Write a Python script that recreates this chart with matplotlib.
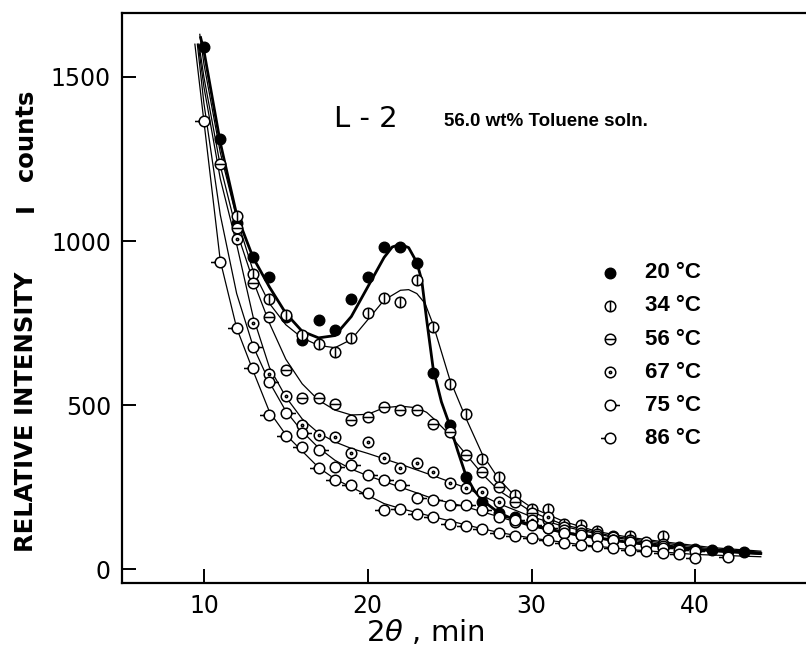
import numpy as np
import matplotlib
matplotlib.use("Agg")
import matplotlib.pyplot as plt
from matplotlib.path import Path

# measured points (2theta in min, counts)
x20 = list(range(10, 44))
y20 = [1590, 1310, 1056, 950, 889, 768, 699, 760, 729, 823, 892, 981, 983, 934, 599, 439,
       282, 205, 170, 160, 150, 125, 109, 104, 99, 101, 83, 81, 75, 68, 63, 58, 55, 51]

x34 = [12, 13, 14, 15, 16, 17, 18, 19, 20, 21, 22, 23, 24, 25, 26, 27, 28, 29, 30, 31, 32, 33, 34, 36, 38]
y34 = [1075, 900, 823, 775, 714, 685, 663, 706, 780, 826, 814, 882, 737, 563, 472, 335, 282, 226,
       185, 182, 139, 136, 116, 101, 101]

x56 = [11, 12, 13, 14, 15, 16, 17, 18, 19, 20, 21, 22, 23, 24, 25, 26, 27, 28, 29, 30, 31, 32, 33, 34, 35, 36, 37, 38]
y56 = [1235, 1040, 871, 768, 607, 521, 521, 502, 455, 465, 495, 485, 485, 442, 419, 348, 297,
       251, 205, 170, 150, 130, 120, 108, 98, 90, 82, 78]

x67 = [12, 13, 14, 15, 16, 17, 18, 19, 20, 21, 22, 23, 24, 25, 26, 27, 28, 29, 30, 31, 32, 33, 34, 35, 36, 38]
y67 = [1006, 750, 595, 528, 439, 409, 402, 355, 388, 338, 307, 324, 297, 263, 246, 236, 205,
       144, 150, 158, 120, 110, 100, 90, 82, 70]

x75 = [13, 14, 15, 16, 17, 18, 19, 20, 21, 22, 23, 24, 25, 26, 27, 28, 29, 30, 31, 32, 33, 34, 35, 36, 37, 38, 39, 40]
y75 = [678, 571, 477, 415, 363, 312, 317, 287, 271, 256, 216, 210, 195, 195, 180, 160, 150, 135,
       125, 110, 105, 95, 90, 82, 75, 65, 60, 55]

x86 = [10, 11, 12, 13, 14, 15, 16, 17, 18, 19, 20, 21, 22, 23, 24, 25, 26, 27, 28, 29, 30,
       31, 32, 33, 34, 35, 36, 37, 38, 39, 40, 42]
y86 = [1365, 936, 735, 612, 470, 406, 373, 307, 271, 256, 233, 180, 182, 168, 158, 139, 132,
       122, 109, 100, 95, 88, 80, 75, 70, 65, 60, 55, 50, 45, 33, 38]

# hand drawn smooth curves
c20x = [9.8, 10, 11, 12, 13, 14, 15, 16, 17, 18, 19, 20, 21, 21.5, 22, 22.5, 23, 23.3, 23.6, 24,
        24.5, 25, 25.5, 26, 26.5, 27, 28, 29, 30, 32, 35, 38, 41, 44]
c20y = [1620, 1580, 1300, 1080, 950, 860, 780, 725, 705, 712, 770, 860, 950, 982, 990, 980, 935,
        880, 760, 610, 510, 440, 360, 285, 240, 210, 172, 150, 135, 112, 88, 70, 57, 48]

c34x = [9.75, 10, 11, 12, 13, 14, 15, 16, 17, 18, 19, 20, 21, 22, 22.5, 23, 23.5, 24, 25, 26, 27,
        28, 29, 30, 32, 34, 36, 38, 41, 44]
c34y = [1630, 1540, 1270, 1070, 910, 810, 745, 705, 682, 675, 700, 760, 820, 850, 852, 840, 810,
        745, 580, 460, 350, 275, 222, 188, 145, 115, 97, 84, 66, 55]

c56x = [9.7, 10, 11, 12, 13, 14, 15, 16, 17, 18, 19, 20, 21, 22, 23, 23.6, 24, 25, 26, 27, 28,
        30, 32, 35, 38, 41, 44]
c56y = [1600, 1500, 1230, 1030, 880, 750, 640, 565, 515, 485, 470, 472, 492, 497, 492, 478, 460,
        410, 350, 290, 240, 175, 135, 100, 80, 62, 52]

c67x = [9.65, 10, 11, 12, 13, 14, 15, 16, 17, 18, 19, 20, 22, 24, 26, 28, 30, 32, 35, 38, 41, 44]
c67y = [1600, 1470, 1190, 990, 770, 615, 525, 458, 415, 388, 368, 353, 320, 285, 248, 200, 160,
        130, 97, 75, 58, 48]

c75x = [9.6, 10, 11, 12, 13, 14, 15, 16, 17, 18, 19, 20, 22, 24, 26, 28, 30, 33, 36, 40, 44]
c75y = [1600, 1420, 1080, 840, 680, 570, 482, 420, 370, 332, 305, 285, 250, 215, 190, 160, 130,
        100, 80, 58, 45]

c86x = [9.45, 10, 11, 12, 13, 14, 15, 16, 17, 18, 19, 20, 21, 22, 24, 26, 28, 30, 33, 36, 40, 44]
c86y = [1600, 1365, 940, 735, 605, 480, 410, 360, 310, 275, 250, 225, 200, 185, 160, 135, 112,
        95, 75, 60, 45, 38]

temps = ["20 \u00b0C", "34 \u00b0C", "56 \u00b0C", "67 \u00b0C", "75 \u00b0C", "86 \u00b0C"]


def marker(extra):
    circ = Path.unit_circle()
    parts = [circ] + [Path(v, [Path.MOVETO, Path.LINETO]) for v in extra]
    return Path.make_compound_path(*parts)


dot = Path.make_compound_path(Path.unit_circle(), Path.circle((0, 0), 0.22))
m34 = marker([[[0, -0.85], [0, 0.85]]])
m56 = marker([[[-0.85, 0], [0.85, 0]]])
m75 = marker([[[1, 0], [1.8, 0]], [[-1.8, 0], [-1.8, 0]]])
m86 = marker([[[-1.8, 0], [-1, 0]], [[1.8, 0], [1.8, 0]]])

ms = 7.6
styles = [
    dict(marker="o", mfc="black", mec="black", ms=ms),
    dict(marker=m34, mfc="white", mec="black", ms=ms, mew=1.1),
    dict(marker=m56, mfc="white", mec="black", ms=ms, mew=1.1),
    dict(marker=dot, mfc="white", mec="black", ms=ms, mew=1.1),
    dict(marker=m75, mfc="white", mec="black", ms=ms * 1.8, mew=1.1),
    dict(marker=m86, mfc="white", mec="black", ms=ms * 1.8, mew=1.1),
]

pts = [(x20, y20), (x34, y34), (x56, y56), (x67, y67), (x75, y75), (x86, y86)]
curves = [(c20x, c20y), (c34x, c34y), (c56x, c56y), (c67x, c67y), (c75x, c75y), (c86x, c86y)]

W, H = 806, 652
fig = plt.figure(figsize=(W / 100, H / 100), dpi=100)
ax = fig.add_axes([122 / W, (H - 583) / H, 692 / W, 570 / H])
ax.set_xlim(5, 5 + 692 / 16.38)
ax.set_ylim(-42, 1695)

for i, (cx, cy) in enumerate(curves):
    ax.plot(cx, cy, color="black", lw=2.0 if i == 0 else 0.9, zorder=2)
for (px, py), st in zip(pts, styles):
    ax.plot(px, py, ls="none", zorder=3, **st)

# key
for i, (lab, st) in enumerate(zip(temps, styles)):
    yy = 0.544 - i * 0.058
    ax.plot([0.705], [yy], ls="none", transform=ax.transAxes, clip_on=False, **st)
    ax.text(0.756, yy, lab, transform=ax.transAxes, va="center", ha="left",
            fontsize=16, fontweight="bold", family="Liberation Sans")

ax.text(0.353, 0.814, "L - 2", transform=ax.transAxes, fontsize=21, va="center", ha="center",
        family="DejaVu Sans")
ax.text(0.465, 0.810, "56.0 wt% Toluene soln.", transform=ax.transAxes, fontsize=13.5,
        fontweight="bold", va="center", ha="left", family="Liberation Sans")

ax.set_xticks([10, 20, 30, 40])
ax.set_yticks([0, 500, 1000, 1500])
ax.tick_params(direction="in", length=10, width=1.4, labelsize=17, pad=8)
for lab in ax.get_xticklabels() + ax.get_yticklabels():
    lab.set_family("DejaVu Sans")
for s in ["left", "bottom", "top"]:
    ax.spines[s].set_linewidth(1.6)
ax.spines["right"].set_visible(False)

plt.rcParams["mathtext.fontset"] = "dejavusans"
fig.text(425 / W, 1 - 633 / H, r"2$\theta$ , min", fontsize=21, ha="center", va="center")
fig.text(26 / W, 1 - 412 / H, "RELATIVE INTENSITY", rotation=90, fontsize=17.5,
         fontweight="bold", ha="center", va="center", family="DejaVu Sans")
fig.text(26 / W, 1 - 207 / H, "I", rotation=90, fontsize=17.5,
         fontweight="bold", ha="center", va="center", family="DejaVu Sans")
fig.text(26 / W, 1 - 135 / H, "counts", rotation=90, fontsize=17.5,
         fontweight="bold", ha="center", va="center", family="DejaVu Sans")

fig.savefig("out.png", dpi=100)
